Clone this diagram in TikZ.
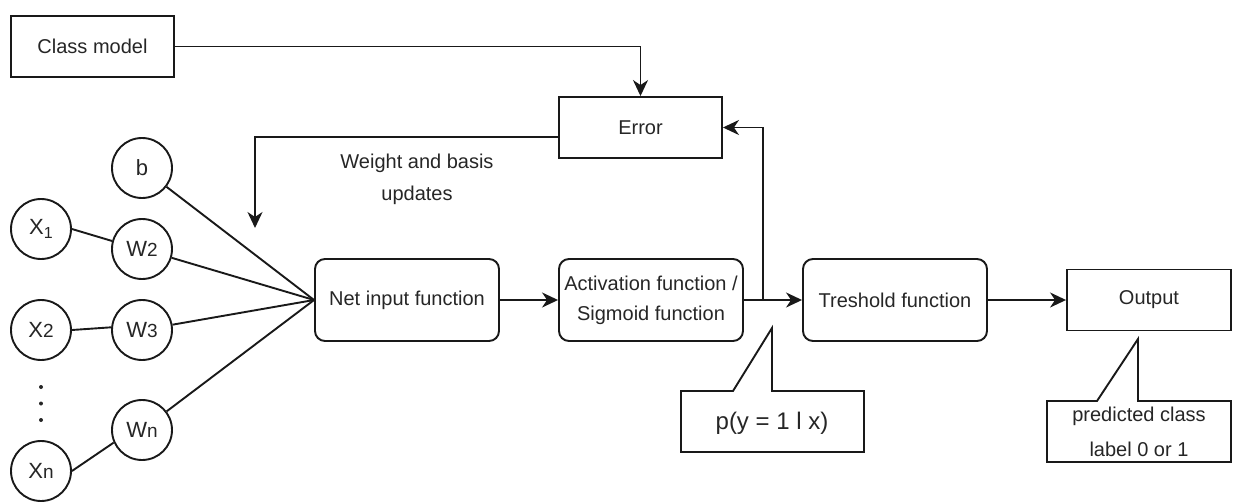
\documentclass[tikz,border=0pt]{standalone}
\usepackage{fontspec}
\setmainfont{Liberation Sans}
\usetikzlibrary{arrows.meta}
\begin{document}
\begin{tikzpicture}[x=1pt,y=-1pt,
  every node/.style={text=black!85},
  line/.style={line width=1.9pt,draw=black!90},
  arr/.style={line,-{Stealth[length=16pt,width=15pt,inset=5pt]}},
  sqbox/.style={draw=black!90,line width=1.9pt,rectangle,inner sep=0pt,
     font=\fontsize{20}{24}\selectfont},
  rbox/.style={draw=black!90,line width=1.9pt,rectangle,rounded corners=10pt,inner sep=0pt,
     minimum width=184pt,minimum height=82pt,align=center,font=\fontsize{20}{30}\selectfont},
  neuron/.style={draw=black!90,line width=1.9pt,circle,inner sep=0pt,minimum size=60pt,
     font=\fontsize{22}{24}\selectfont},
  callout/.style={draw=black!90,line width=1.9pt,fill=white}
]
\useasboundingbox (0,0) rectangle (1237,501);

% boxes
\node[sqbox,minimum width=163pt,minimum height=61pt] (cm) at (92.5,46.5) {Class model};
\node[sqbox,minimum width=163pt,minimum height=61pt] (err) at (640.5,127.5) {Error};
\node[rbox] (net) at (407,300) {Net input function};
\node[rbox] (act) at (651,300) {Activation function /\\Sigmoid function};
\node[rbox] (thr) at (895,300) {Treshold function};
\node[sqbox,minimum width=164pt,minimum height=61pt] (out) at (1149,300) {Output};

% neurons
\node[neuron] (b)  at (142,168) {b};
\node[neuron] (x1) at (41,229) {X\raisebox{-4pt}{\fontsize{16}{16}\selectfont 1}};
\node[neuron] (w2) at (142,249) {W{\fontsize{19}{19}\selectfont 2}};
\node[neuron] (x2) at (41,330) {X{\fontsize{19}{19}\selectfont 2}};
\node[neuron] (w3) at (142,330) {W{\fontsize{19}{19}\selectfont 3}};
\node[neuron] (wn) at (142,430) {W{\fontsize{19}{19}\selectfont n}};
\node[neuron] (xn) at (41,471) {X{\fontsize{19}{19}\selectfont n}};

% vertical dots
\fill[black!85] (41,387) circle (2pt) (41,403.5) circle (2pt) (41,420) circle (2pt);

% neuron connections
\draw[line] (x1.east) -- (w2.165);
\draw[line] (x2.east) -- (w3.175);
\draw[line] (xn.east) -- (wn.204);
\draw[line] (b) -- (net.west);
\draw[line] (w2) -- (net.west);
\draw[line] (w3) -- (net.west);
\draw[line] (wn) -- (net.west);

% flow arrows
\draw[arr] (cm.east) -| (err.north);
\coordinate (wtip) at (255,228);
\draw[arr] ([yshift=-9.5pt]err.west) -| (wtip);
\node[align=center,font=\fontsize{20}{32}\selectfont] (wlab) at (417,179) {Weight and basis\\updates};
\draw[arr] (net.east) -- (act.west);
\draw[arr] (act.east) -- (thr.west);
\coordinate (j) at (763,300);
\draw[arr] (j) |- (err.east);
\draw[arr] (thr.east) -- (out.west);

% callouts
\draw[callout] (681,391) -- (733,391) -- (772,328) -- (772,391) -- (864,391) -- (864,452) -- (681,452) -- cycle;
\node[font=\fontsize{24}{28}\selectfont] (prob) at (772,423) {p(y = 1 l x)};
\draw[callout] (1047,401) -- (1097,401) -- (1138,339) -- (1138,401) -- (1231,401) -- (1231,462) -- (1047,462) -- cycle;
\node[align=center,font=\fontsize{20}{35}\selectfont] (pred) at (1139,431.5) {predicted class\\label 0 or 1};
\end{tikzpicture}
\end{document}
